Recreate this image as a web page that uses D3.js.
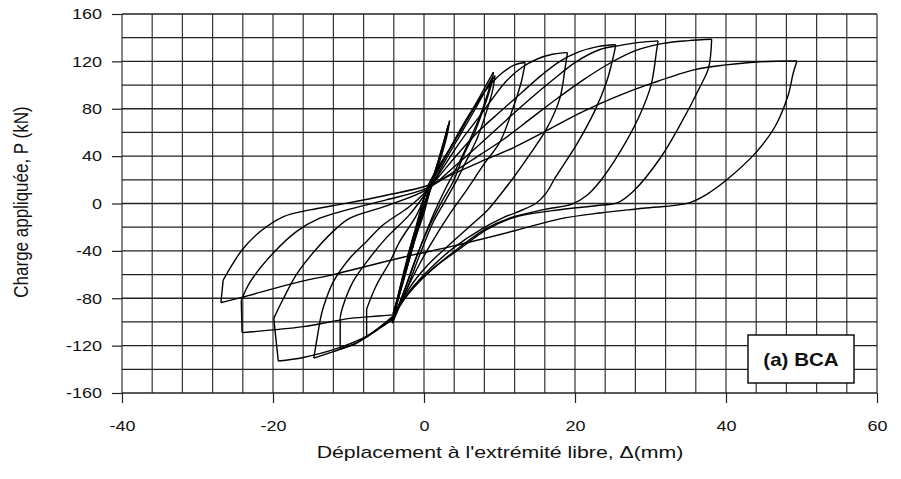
<!DOCTYPE html>
<html>
<head>
<meta charset="UTF-8">
<title></title>
<style>
  body { margin: 0; background: #fff; }
  svg { display: block; }
  text { font-family: "Liberation Sans", Arial, sans-serif; fill: #111; }
</style>
</head>
<body>
<div id="chart"></div>
<script src="https://d3js.org/d3.v7.min.js"></script>
<script>
// axes
var xTicks = [-40, -20, 0, 20, 40, 60];
var yTicks = [160, 120, 80, 40, 0, -40, -80, -120, -160];
var xTitle = "Déplacement à l'extrémité libre, \u0394(mm)";
var yTitle = "Charge appliquée, P (kN)";
var label = "(a) BCA";

// hysteresis cycles: [deplacement mm, charge kN]
// each cycle is split into branches so the peaks keep their corners
var cycle0 = [
  [[-2.2, -45], [-1.1, -22], [0.2, 2], [1.3, 22]],
  [[1.3, 22], [0.4, 6], [-0.9, -20], [-2.2, -45]]
];
var cycle1 = [
  [[-4.1, -93], [-3, -68], [-1.8, -40], [-0.5, -12], [0.6, 10], [1.6, 30], [2.6, 52], [3.4, 70]],
  [[3.4, 70], [3.0, 56], [2.1, 36], [1.0, 16], [-0.3, -8], [-1.8, -44], [-3.2, -76], [-4.1, -93]]
];
var cycle1b = [
  [[-3.9, -90], [-2.6, -62], [-1.3, -33], [0, -5], [1.1, 18], [2.2, 42], [3.2, 66]],
  [[3.2, 66], [2.6, 50], [1.6, 30], [0.5, 8], [-1, -24], [-2.6, -60], [-3.9, -90]]
];
var cycle2 = [
  [[-4.1, -99], [-3.1, -70], [-1.9, -40], [-0.6, -12], [0.4, 13], [2, 32], [4, 52], [6, 74], [7.8, 95], [9.2, 111]],
  [[9.2, 111], [8.9, 100], [8, 82], [6.7, 60], [5.2, 40], [3.9, 19], [2.4, 2], [0.8, -18], [-1, -45], [-2.7, -75], [-4.1, -99]]
];
var cycle2b = [
  [[-4.0, -96], [-2.8, -66], [-1.5, -36], [0, -8], [1, 14], [2.8, 36], [4.8, 58], [6.8, 80], [9.0, 106]],
  [[9.0, 106], [8.4, 92], [7.3, 72], [5.8, 50], [4.3, 30], [2.8, 12], [1.2, -10], [-0.8, -42], [-2.5, -72], [-4.0, -96]]
];
var cycle2c = [
  [[-4.2, -101], [-3.3, -74], [-2.2, -46], [-1, -18], [0.2, 8], [1.6, 26], [3.4, 46], [5.4, 68], [7.4, 88], [9.4, 108]],
  [[9.4, 108], [9.1, 96], [8.3, 78], [7.1, 56], [5.6, 36], [4.2, 18], [2.8, 2], [1.2, -16], [-0.6, -44], [-2.4, -74], [-4.2, -101]]
];
var cycle3 = [
  [[-7.6, -112.7], [-5.6, -104], [-4.1, -98]],
  [[-4.1, -98], [-2.4, -74], [-0.5, -50], [1.5, -28], [3.5, -8], [5.5, 10], [7.9, 32.8], [10.1, 52.5], [11.8, 80.8], [12.9, 103], [13.4, 119]],
  [[13.4, 119], [12, 117], [10.5, 111], [9, 102], [7.4, 89], [5.5, 70], [3.5, 47], [1.8, 27], [0.4, 10], [-1, -10], [-3.2, -32], [-4.5, -49], [-6.3, -69], [-7.6, -89]],
  [[-7.6, -89], [-7.6, -112.7]]
];
var cycle4 = [
  [[-11.1, -122.6], [-9, -118], [-6.5, -108], [-4.1, -97]],
  [[-4.1, -97], [-2, -72], [0.5, -52], [3.5, -34], [6.3, -18], [8.5, -5], [10.1, 7.4], [11.8, 21.4], [14, 41.2], [16.3, 63.8], [18, 89], [18.7, 114.7], [19, 127.4]],
  [[19, 127.4], [17, 126], [15, 122], [13, 115], [11, 104], [9, 88], [7.4, 74], [5, 54], [2.6, 31], [0.4, 10], [-2, -10], [-5, -29], [-7.2, -46], [-9.4, -66], [-10.8, -88], [-11.1, -96]],
  [[-11.1, -96], [-11.1, -122.6]]
];
var cycle5 = [
  [[-14.6, -130.5], [-12, -125], [-9, -118], [-6.5, -108], [-4.1, -96]],
  [[-4.1, -96], [-1.8, -73], [0.8, -55], [4, -37], [7.5, -22], [10.5, -12], [13, -5.5], [14.8, 0], [16.2, 9], [17.4, 22], [20.2, 49.7], [22.6, 78], [24.2, 103], [25.1, 124.6], [25.4, 134]],
  [[25.4, 134], [23, 132.5], [20.5, 128], [18, 120], [15.5, 108], [13, 94], [10, 77], [7.4, 62], [4.5, 42], [2, 23], [0.4, 11], [-2, -3], [-5.4, -18], [-7.6, -32], [-9.8, -46], [-12, -66], [-13.3, -87], [-13.8, -100]],
  [[-13.8, -100], [-14.6, -130.5]]
];
var cycle6 = [
  [[-19.3, -133], [-16, -130], [-11.6, -122.6], [-7.6, -112], [-4.1, -95]],
  [[-4.1, -95], [-1.6, -72], [1, -56], [4.5, -38], [8, -22], [11.5, -12], [16, -5], [19.6, -0.5], [21.6, 7], [23.3, 18.6], [26, 44], [28.6, 75], [30.1, 100.6], [30.8, 128.8], [31, 137.3]],
  [[31, 137.3], [28.5, 136], [26, 133.5], [23.3, 130], [20, 119], [17, 104], [14, 88], [11, 71], [7.4, 50], [4, 31], [0.4, 12], [-5, -2], [-9.8, -12.4], [-11.6, -21], [-14.2, -38], [-16.9, -60], [-18.6, -80], [-19.9, -97]],
  [[-19.9, -97], [-19.3, -133]]
];
var cycle7 = [
  [[-24.1, -109], [-16, -104], [-9.8, -97], [-6, -95], [-4.1, -94]],
  [[-4.1, -94], [-1.5, -72], [1.2, -55], [4.8, -38], [8.3, -22], [11.8, -12], [17, -6], [23.3, -1.5], [25.5, 0.3], [27.7, 10.2], [31.3, 38.4], [33.7, 63.8], [36.6, 99], [37.7, 114.7], [38.1, 138.7]],
  [[38.1, 138.7], [35, 137.5], [31.5, 135], [28, 129], [24.5, 118], [21, 104], [17.5, 88], [14, 71], [10.5, 54], [7.4, 41], [4, 27], [0.4, 13], [-5, 3], [-10.2, -5.4], [-13.8, -12.4], [-16.9, -23.7], [-20, -42], [-23, -66], [-24.2, -81.6]],
  [[-24.2, -81.6], [-24.1, -109]]
];
var cycle8 = [
  [[-26.9, -83.6], [-24, -79], [-16.4, -66], [-12, -60], [-3.2, -46], [3.8, -36], [12, -23], [18, -13], [23.3, -8], [29, -4], [35, 0.3], [37.5, 8], [40.1, 20], [44.1, 44], [46.5, 65], [48.2, 90.7], [48.9, 110], [49.4, 120.3]],
  [[49.4, 120.3], [44.1, 119.5], [40, 117], [35.9, 113], [30.4, 102], [25, 89], [20.7, 76.5], [15.8, 60], [11.8, 47], [7.4, 35], [3.5, 24], [0.4, 15], [-5, 7], [-10.2, 0.3], [-15.1, -5.4], [-18.6, -11], [-21.7, -23.7], [-24.1, -39.3], [-26.6, -64.7]],
  [[-26.6, -64.7], [-26.9, -83.6]]
];
var cycles = [cycle0, cycle1, cycle1b, cycle2, cycle2b, cycle2c, cycle3, cycle4, cycle5, cycle6, cycle7, cycle8];

var width = 901, height = 479;
var svg = d3.select("#chart").append("svg")
  .attr("width", width).attr("height", height);

var x = d3.scaleLinear().domain([-40, 60]).range([122, 877]);
var y = d3.scaleLinear().domain([-160, 160]).range([393, 14]);

// stretch horizontal texts a little, the scan is wider than tall
function stretch(sel, k) {
  sel.each(function() {
    var len = this.getComputedTextLength();
    d3.select(this).attr("textLength", len * k).attr("lengthAdjust", "spacingAndGlyphs");
  });
}

// grid
var grid = svg.append("g");
grid.selectAll(".gx").data(d3.range(-40, 61, 4)).enter().append("line")
  .attr("x1", function(d) { return x(d); }).attr("x2", function(d) { return x(d); })
  .attr("y1", y(160)).attr("y2", y(-160))
  .attr("stroke", "#333").attr("stroke-width", 1.2);
grid.selectAll(".gy").data(d3.range(-160, 161, 20)).enter().append("line")
  .attr("y1", function(d) { return y(d); }).attr("y2", function(d) { return y(d); })
  .attr("x1", x(-40)).attr("x2", x(60))
  .attr("stroke", "#222").attr("stroke-width", 1.3);

// axes (plain hyphen for negatives, as in the scan)
var fmt = function(d) { return String(d); };
var yAxis = d3.axisLeft(y).tickValues(yTicks).tickFormat(fmt).tickSizeInner(10).tickSizeOuter(0).tickPadding(10);
var gy = svg.append("g").attr("transform", "translate(" + x(-40) + ",0)").call(yAxis);
gy.select(".domain").remove();
gy.selectAll("line").attr("stroke", "#222").attr("stroke-width", 1.2);
gy.selectAll("text").attr("font-size", "15px").attr("fill", "#111").call(stretch, 1.2);

var xAxis = d3.axisBottom(x).tickValues(xTicks).tickFormat(fmt).tickSizeInner(10).tickSizeOuter(0).tickPadding(17);
var gx = svg.append("g").attr("transform", "translate(0," + y(-160) + ")").call(xAxis);
gx.select(".domain").remove();
gx.selectAll("line").attr("stroke", "#222").attr("stroke-width", 1.2);
gx.selectAll("text").attr("font-size", "15px").attr("fill", "#111").call(stretch, 1.2);

svg.append("text")
  .attr("x", 500).attr("y", 458)
  .attr("text-anchor", "middle").attr("font-size", "17px")
  .text(xTitle).call(stretch, 1.25);

svg.append("text")
  .attr("transform", "translate(28,202) rotate(-90) scale(1,1.2)")
  .attr("text-anchor", "middle").attr("font-size", "17px")
  .text(yTitle);

// curves
var line = d3.line()
  .x(function(d) { return x(d[0]); })
  .y(function(d) { return y(d[1]); })
  .curve(d3.curveCatmullRom.alpha(0.5));

var curves = svg.append("g");
cycles.forEach(function(c, i) {
  curves.selectAll(".c" + i).data(c).enter().append("path")
    .attr("class", "c" + i)
    .attr("d", line)
    .attr("fill", "none")
    .attr("stroke", "#000")
    .attr("stroke-width", 1.4)
    .attr("stroke-linejoin", "round");
});

// label box
var box = svg.append("g");
box.append("rect")
  .attr("x", 748).attr("y", 335).attr("width", 106).attr("height", 48)
  .attr("fill", "#fff").attr("stroke", "#111").attr("stroke-width", 1.5);
box.append("text")
  .attr("x", 801).attr("y", 366)
  .attr("text-anchor", "middle").attr("font-size", "19px").attr("font-weight", "bold")
  .text(label).call(stretch, 1.08);
</script>
</body>
</html>
